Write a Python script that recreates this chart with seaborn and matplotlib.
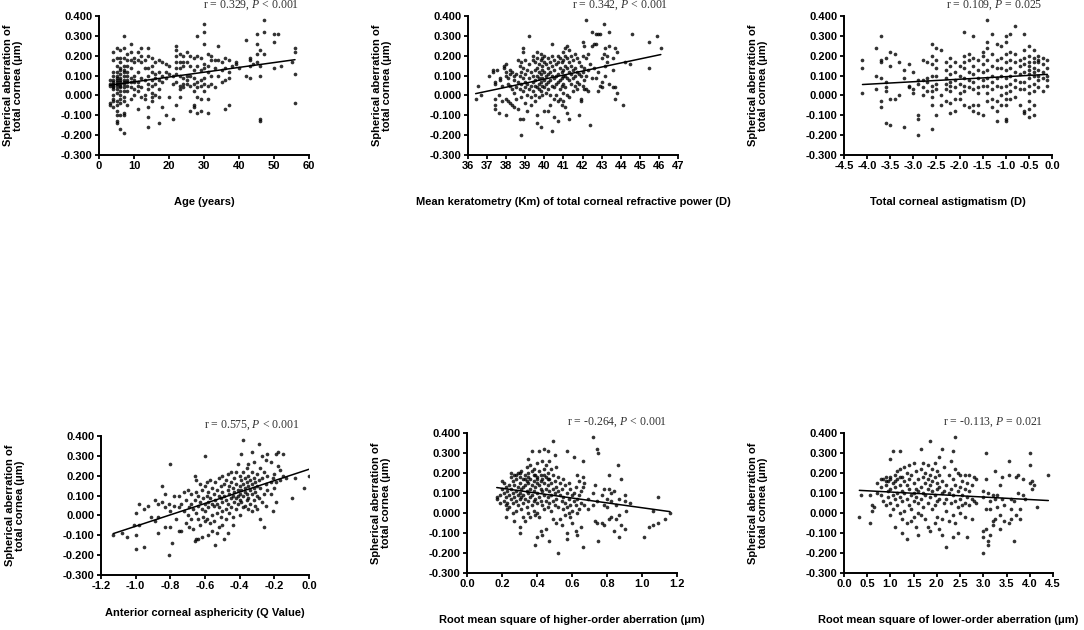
import matplotlib
matplotlib.use("Agg")
import matplotlib.pyplot as plt
from matplotlib.ticker import FormatStrFormatter
import seaborn as sns
import pandas as pd

# ---------------- data ----------------
# Each panel: list of x columns and, per column, the spherical aberration values.
AGE_X = [3, 4, 5, 6, 7, 8, 9, 10, 11, 12, 13, 14, 15, 16, 17, 18, 19, 20, 21, 22,
         23, 24, 25, 26, 27, 28, 29, 30, 31, 32, 33, 34, 35, 36, 37, 38, 39, 40,
         42, 43, 44, 45, 46, 47, 50, 51, 52, 55, 56]
AGE_SA = [
    [-0.04, -0.05, 0.06, 0.08, 0.05],
    [0.22, 0.18, 0.12, 0.10, 0.08, 0.07, 0.05, 0.03, 0.00, -0.02, -0.03, -0.06, 0.06, 0.04],
    [0.24, 0.19, 0.15, 0.12, 0.10, 0.08, 0.06, 0.05, 0.03, 0.01, -0.03, -0.05, -0.08, -0.10, -0.13, -0.14, 0.09, 0.07],
    [0.23, 0.19, 0.17, 0.14, 0.13, 0.11, 0.09, 0.07, 0.06, 0.04, 0.02, 0.00, -0.02, -0.04, -0.10, -0.17, 0.08, 0.05],
    [0.30, 0.24, 0.19, 0.15, 0.12, 0.10, 0.08, 0.06, 0.04, 0.02, -0.01, -0.03, -0.09, -0.10, -0.19, 0.13, 0.07],
    [0.21, 0.18, 0.15, 0.10, 0.07, 0.05, 0.02, -0.05, 0.12, 0.08],
    [0.26, 0.22, 0.18, 0.09, 0.07, 0.04, -0.02, 0.14],
    [0.19, 0.17, 0.10, 0.07, 0.03, 0.00, 0.08],
    [0.22, 0.18, 0.12, 0.07, 0.02, -0.07, 0.05],
    [0.24, 0.20, 0.17, 0.09, 0.04, -0.01],
    [0.18, 0.14, 0.08, 0.00, -0.02],
    [0.24, 0.20, 0.14, 0.10, 0.06, 0.03, -0.06, -0.11, -0.16],
    [0.19, 0.15, 0.12, 0.08, 0.05, 0.01, -0.01, -0.03],
    [0.17, 0.11, 0.09, 0.06, 0.00],
    [0.18, 0.12, 0.08, 0.03, -0.01, -0.14],
    [0.17, 0.10, 0.07, -0.06],
    [0.16, 0.12, 0.09, -0.10],
    [0.15, 0.11, -0.01],
    [0.10, 0.06, -0.12],
    [0.25, 0.23, 0.20, 0.17, 0.14, 0.11, 0.07, -0.05],
    [0.21, 0.17, 0.14, 0.10, 0.05, 0.03, -0.01],
    [0.20, 0.17, 0.15, 0.09, 0.06, 0.04],
    [0.22, 0.17, 0.10, 0.08, 0.06],
    [0.20, 0.15, 0.10, 0.05, -0.08],
    [0.19, 0.13, 0.09, 0.06, 0.02, -0.05, -0.06],
    [0.30, 0.20, 0.15, 0.07, 0.04, -0.01, -0.09],
    [0.19, 0.13, 0.08, 0.05, -0.02, -0.08],
    [0.36, 0.32, 0.26, 0.16, 0.14, 0.09, 0.06, 0.02],
    [0.21, 0.15, 0.12, 0.05, -0.02, -0.09],
    [0.20, 0.18, 0.10, 0.06],
    [0.18, 0.14, 0.04],
    [0.25, 0.18, 0.10],
    [0.17, 0.13, 0.07],
    [0.19, 0.14, 0.08, -0.07],
    [0.18, 0.12, 0.09, -0.05],
    [0.15],
    [0.17, 0.16],
    [0.14],
    [0.28, 0.10],
    [0.19, 0.18, 0.15, 0.09],
    [0.16],
    [0.31, 0.26, 0.21, 0.17],
    [0.23, 0.15, 0.10, -0.12, -0.13],
    [0.38, 0.32, 0.21],
    [0.31, 0.27, 0.14],
    [0.31],
    [0.15],
    [0.17],
    [0.24, 0.22, 0.11, -0.04],
]

KM_X = [36.4, 36.5, 36.7, 37.1, 37.3, 37.4, 37.5, 37.6, 37.7, 37.8, 37.9, 38.0, 38.1,
        38.2, 38.3, 38.4, 38.5, 38.6, 38.7, 38.8, 38.9, 39.0, 39.1, 39.2, 39.3, 39.4,
        39.5, 39.6, 39.7, 39.8, 39.9, 40.0, 40.1, 40.2, 40.3, 40.4, 40.5, 40.6, 40.7,
        40.8, 40.9, 41.0, 41.1, 41.2, 41.3, 41.4, 41.5, 41.6, 41.7, 41.8, 41.9, 42.0,
        42.1, 42.2, 42.3, 42.4, 42.5, 42.6, 42.7, 42.8, 42.9, 43.0, 43.1, 43.2, 43.3,
        43.4, 43.6, 43.7, 43.8, 44.1, 44.2, 44.5, 44.6, 45.5, 45.9, 46.1]
KM_SA = [
    [-0.02], [0.05], [0.00], [0.10], [0.13, 0.12],
    [0.07, 0.06, -0.02, -0.05, -0.07], [0.13], [-0.09, 0.00], [0.09, 0.08],
    [0.05, -0.03], [0.15, 0.14], [0.16, 0.12, 0.10, -0.02, -0.10], [0.09, 0.06, -0.03],
    [0.13, 0.11, 0.05, -0.04], [0.12, 0.03, -0.05], [0.10, 0.08, 0.01, -0.06],
    [0.11, 0.04, -0.02], [0.18, 0.07, -0.07], [0.15, 0.10, 0.03, -0.12],
    [0.17, 0.12, 0.06, -0.01, -0.20], [0.24, 0.22, 0.14, 0.09, 0.02, -0.12],
    [0.18, 0.11, 0.07, 0.04, -0.04], [0.13, 0.06, 0.00, -0.08], [0.30, 0.16, 0.09, 0.03],
    [0.12, 0.05, -0.01, -0.05], [0.20, 0.18, 0.10, 0.07, 0.02],
    [0.17, 0.13, 0.08, 0.05, 0.00, -0.03], [0.22, 0.19, 0.14, 0.10, 0.04, -0.10, -0.14],
    [0.16, 0.12, 0.09, 0.06, 0.03, -0.01], [0.21, 0.18, 0.11, 0.07, 0.02, -0.16],
    [0.19, 0.15, 0.13, 0.09, 0.05, 0.00], [0.20, 0.17, 0.12, 0.08, 0.04, -0.08],
    [0.16, 0.10, 0.06, 0.01], [0.19, 0.14, 0.11, 0.07, 0.03, -0.08],
    [0.17, 0.12, 0.08, 0.00, -0.05], [0.26, 0.20, 0.15, 0.10, 0.05, -0.18],
    [0.18, 0.13, 0.09, 0.04, -0.02, -0.11], [0.16, 0.10, 0.06, 0.00],
    [0.20, 0.17, 0.11, 0.07, -0.03, -0.13], [0.19, 0.14, 0.08, 0.03, -0.02],
    [0.17, 0.12, 0.09, 0.05, -0.05], [0.22, 0.18, 0.13, 0.10, 0.06, 0.01, -0.03],
    [0.24, 0.20, 0.15, 0.10, 0.04, -0.06], [0.25, 0.19, 0.14, 0.09, 0.00, -0.09],
    [0.23, 0.17, 0.12, 0.08, -0.01, -0.12], [0.20, 0.15, 0.11, 0.06],
    [0.18, 0.13, 0.09, 0.02], [0.21, 0.14, 0.10, 0.05], [0.19, 0.12, 0.07, 0.03],
    [0.17, 0.11, 0.06, -0.10], [0.15, 0.10, -0.02, -0.03], [0.27, 0.20, 0.12, 0.05],
    [0.25, 0.14, 0.08, 0.03], [0.38, 0.19, 0.10, 0.03], [0.21, 0.13, 0.02],
    [0.16, -0.15], [0.32, 0.25, 0.09], [0.26, 0.14], [0.31, 0.26, 0.09],
    [0.31, 0.12, 0.02], [0.31, 0.05], [0.19, 0.07, 0.04], [0.36, 0.21],
    [0.24, 0.15, 0.10], [0.20, 0.17], [0.32, 0.25, 0.06], [0.19, 0.13, 0.04],
    [0.24, 0.04, -0.02], [0.22, 0.01], [-0.05], [0.17], [0.16], [0.31],
    [0.27, 0.14], [0.30], [0.24],
]

AST_X = [-4.1, -3.8, -3.7, -3.6, -3.5, -3.4, -3.3, -3.2, -3.1, -3.0, -2.9, -2.8, -2.7,
         -2.6, -2.5, -2.4, -2.3, -2.2, -2.1, -2.0, -1.9, -1.8, -1.7, -1.6, -1.5, -1.4,
         -1.3, -1.2, -1.1, -1.0, -0.9, -0.8, -0.7, -0.6, -0.5, -0.4, -0.3, -0.2, -0.1]
AST_SA = [
    [0.18, 0.14, 0.01], [0.24, 0.10, 0.03], [0.30, 0.18, 0.17, 0.09, -0.03, -0.06],
    [0.19, 0.07, 0.04, 0.02, -0.14], [0.22, 0.15, -0.02, -0.15], [0.21, -0.02],
    [0.17, 0.00], [0.13, 0.09, -0.16], [0.16, 0.05, 0.04], [0.12, 0.03, 0.01],
    [0.08, 0.06, -0.10, -0.12, -0.20], [0.18, 0.08, 0.04, 0.00], [0.17, 0.09, 0.07, 0.02],
    [0.26, 0.20, 0.16, 0.10, 0.05, 0.02, -0.01, -0.05, -0.17],
    [0.24, 0.18, 0.14, 0.10, 0.06, 0.03, -0.10], [0.23, 0.00, -0.05],
    [0.17, 0.13, 0.09, 0.06, 0.03, -0.03], [0.19, 0.15, 0.11, 0.07, 0.05, 0.02, -0.04, -0.09],
    [0.17, 0.12, 0.08, 0.04, -0.02, -0.08], [0.15, 0.10, 0.06, 0.01, -0.02],
    [0.32, 0.20, 0.17, 0.14, 0.09, 0.05, 0.02, -0.05], [0.21, 0.18, 0.12, 0.08, 0.04, -0.06],
    [0.30, 0.19, 0.15, 0.11, 0.07, 0.03, -0.05, -0.08],
    [0.18, 0.13, 0.09, 0.04, 0.01, -0.05, -0.09], [0.22, 0.20, 0.16, 0.12, 0.08, 0.05, -0.10],
    [0.38, 0.27, 0.24, 0.18, 0.13, 0.09, 0.05, 0.01, -0.03],
    [0.31, 0.21, 0.15, 0.10, 0.07, 0.03, -0.02, -0.06],
    [0.26, 0.18, 0.14, 0.09, 0.05, -0.03, -0.08, -0.13],
    [0.25, 0.19, 0.14, 0.10, 0.04, 0.00, -0.05],
    [0.30, 0.27, 0.21, 0.17, 0.13, 0.09, 0.05, 0.01, -0.02, -0.05, -0.12, -0.13],
    [0.31, 0.22, 0.18, 0.14, 0.10, 0.06, 0.02, -0.02], [0.35, 0.21, 0.17, 0.12, 0.08, 0.04, -0.01],
    [0.18, 0.15, 0.11, 0.07, 0.03, -0.05], [0.31, 0.23, 0.19, 0.16, 0.12, 0.07, 0.03, -0.08, -0.09],
    [0.25, 0.20, 0.17, 0.15, 0.13, 0.11, 0.09, 0.05, 0.01, -0.03, -0.07, -0.11],
    [0.23, 0.19, 0.17, 0.14, 0.12, 0.10, 0.06, 0.02, -0.05, -0.10],
    [0.20, 0.18, 0.17, 0.13, 0.10, 0.08, 0.04],
    [0.19, 0.16, 0.12, 0.09, 0.02], [0.18, 0.14, 0.10, 0.08, 0.05],
]

Q_X = [-1.13, -1.08, -1.05, -1.01, -1.00, -0.98, -0.95, -0.93, -0.91, -0.89, -0.87, -0.85,
       -0.83, -0.81, -0.80, -0.79, -0.78, -0.77, -0.75, -0.74, -0.72, -0.71, -0.70, -0.69,
       -0.68, -0.67, -0.66, -0.65, -0.64, -0.63, -0.62, -0.61, -0.60, -0.59, -0.58, -0.57,
       -0.56, -0.55, -0.54, -0.53, -0.52, -0.51, -0.50, -0.49, -0.48, -0.47, -0.46, -0.45,
       -0.44, -0.43, -0.42, -0.41, -0.40, -0.39, -0.38, -0.37, -0.36, -0.35, -0.34, -0.33,
       -0.32, -0.31, -0.30, -0.29, -0.28, -0.27, -0.26, -0.25, -0.24, -0.22, -0.21, -0.20,
       -0.19, -0.18, -0.17, -0.15, -0.13, -0.10, -0.08, -0.03, 0.00]
Q_SA = [
    [-0.10], [-0.09], [-0.11], [-0.05], [-0.17, -0.10, 0.01], [0.06, -0.05], [0.03, -0.16],
    [0.05], [-0.01], [0.08, -0.03], [0.06, -0.01, -0.09], [0.15, 0.07], [0.04, 0.11, -0.06],
    [0.06, -0.20], [0.26, 0.02, -0.06], [-0.14], [0.10, 0.05], [-0.02], [0.10, 0.04, -0.08],
    [0.06, -0.08], [0.12, 0.02], [0.08, -0.04], [0.13, 0.00], [0.04, -0.06],
    [0.11, 0.06, -0.02], [0.03, -0.07], [0.20, 0.08, -0.13], [0.18, 0.12, 0.01, -0.12],
    [0.10, 0.05, -0.02, -0.12], [0.16, 0.07, -0.05], [0.13, 0.03, -0.11], [0.09, -0.01],
    [0.30, 0.15, 0.06, 0.02, -0.03], [0.17, 0.10, -0.02], [0.12, 0.07, 0.04, -0.10],
    [0.18, 0.09, -0.04], [0.14, 0.06, 0.00, -0.08], [0.11, 0.05, -0.03], [0.17, 0.08, -0.15],
    [0.13, 0.06, 0.01, -0.09], [0.19, 0.10, 0.04, -0.06], [0.15, 0.09, -0.01],
    [0.20, 0.12, 0.07, 0.02, -0.05], [0.16, 0.10, -0.12], [0.18, 0.08, 0.03, -0.02],
    [0.21, 0.13, 0.06, -0.09], [0.15, 0.11, 0.01], [0.22, 0.17, 0.09, 0.04],
    [0.14, 0.10, -0.01, -0.05], [0.19, 0.12, 0.07], [0.22, 0.16, 0.09, 0.03],
    [0.26, 0.13, 0.10, 0.06], [0.20, 0.15, 0.11, 0.08, 0.00], [0.31, 0.18, 0.13, 0.07],
    [0.38, 0.22, 0.16, 0.10, 0.04], [0.19, 0.14, 0.12, 0.05], [0.24, 0.17, 0.11, 0.08],
    [0.26, 0.20, 0.15, 0.09, 0.03], [0.18, 0.13, 0.06], [0.32, 0.22, 0.16, 0.11, 0.02],
    [0.27, 0.19, 0.14, 0.08], [0.17, 0.12, 0.05], [0.21, 0.15, 0.10, 0.03], [0.36, 0.18, 0.09],
    [0.24, 0.14, -0.02], [0.30, 0.19, 0.07], [0.22, 0.11, -0.06], [0.28, 0.16, 0.05],
    [0.31, 0.20, 0.13], [0.27, 0.17, 0.11], [0.19, 0.02], [0.21, 0.14], [0.31, 0.17, 0.07],
    [0.32, 0.25], [0.23, 0.18], [0.31, 0.20], [0.19], [0.09], [0.19], [0.14], [0.20],
]

HOA_X = [0.17, 0.19, 0.20, 0.21, 0.22, 0.23, 0.24, 0.25, 0.26, 0.27, 0.28, 0.29, 0.30,
         0.31, 0.32, 0.33, 0.34, 0.35, 0.36, 0.37, 0.38, 0.39, 0.40, 0.41, 0.42, 0.43,
         0.44, 0.45, 0.46, 0.47, 0.48, 0.49, 0.50, 0.51, 0.52, 0.53, 0.54, 0.55, 0.56,
         0.57, 0.58, 0.59, 0.60, 0.61, 0.62, 0.63, 0.64, 0.65, 0.66, 0.67, 0.69, 0.72,
         0.73, 0.74, 0.75, 0.77, 0.78, 0.80, 0.81, 0.82, 0.84, 0.85, 0.86, 0.87, 0.88,
         0.90, 0.91, 0.93, 1.01, 1.04, 1.06, 1.09, 1.13, 1.16]
HOA_SA = [
    [0.08, 0.07], [0.09, 0.05], [0.16, 0.12], [0.15, 0.10, 0.06], [0.13, 0.08, 0.04, -0.02],
    [0.11, 0.05, 0.02], [0.14, 0.09, 0.03], [0.20, 0.18, 0.12, 0.07], [0.16, 0.10, 0.05, 0.00],
    [0.19, 0.14, 0.08, -0.04], [0.19, 0.17, 0.11, 0.06, 0.01], [0.20, 0.13, 0.09, 0.04],
    [0.20, 0.18, 0.15, 0.10, 0.07, -0.07, -0.10], [0.21, 0.12, 0.08, 0.02],
    [0.17, 0.13, 0.09, 0.05, -0.02], [0.19, 0.17, 0.14, 0.07, -0.04], [0.23, 0.16, 0.11, 0.03],
    [0.27, 0.20, 0.18, 0.15, 0.10, 0.06, 0.00], [0.24, 0.17, 0.12, 0.08, -0.02],
    [0.31, 0.21, 0.14, 0.09, 0.04], [0.22, 0.19, 0.16, 0.11, 0.06, 0.01],
    [0.19, 0.13, 0.07, -0.01, -0.16], [0.25, 0.18, 0.17, 0.15, 0.10, 0.05, 0.00, -0.12],
    [0.31, 0.21, 0.14, 0.08, -0.02], [0.19, 0.16, 0.12, 0.06, -0.09], [0.26, 0.17, 0.11, 0.04, -0.11],
    [0.32, 0.22, 0.19, 0.15, 0.09, 0.02], [0.24, 0.18, 0.12, 0.06, -0.08],
    [0.31, 0.20, 0.17, 0.14, 0.08, 0.03], [0.26, 0.17, 0.11, 0.05, -0.14], [0.22, 0.15, 0.09, 0.01],
    [0.36, 0.19, 0.12, 0.06, -0.03], [0.29, 0.16, 0.10, 0.04], [0.23, 0.13, 0.07, -0.05],
    [0.18, 0.11, 0.03, -0.20], [0.15, 0.09, -0.03], [0.12, 0.06, -0.06], [0.17, 0.08, 0.02],
    [0.14, 0.05, -0.01], [0.31, 0.10, 0.03, -0.10, -0.13], [0.15, 0.07, 0.00],
    [0.12, 0.04, -0.02], [0.09, 0.01, -0.05], [0.28, 0.10, 0.06], [0.13, 0.04, -0.09],
    [0.19, 0.07, 0.00, -0.11], [0.16, 0.09, 0.02], [0.11, 0.05, -0.07],
    [0.26, 0.18, 0.13, -0.17], [0.15, 0.04], [0.07, 0.02], [0.38, 0.10, 0.04], [0.14, -0.04],
    [0.32, 0.06, -0.05], [0.30, -0.14], [0.09, -0.05], [0.12, 0.04, -0.06], [0.07, 0.03],
    [0.19, 0.12, -0.03], [0.10, 0.06, -0.02], [0.11, -0.09], [0.04, -0.03], [0.24],
    [0.07, -0.01, -0.12], [0.17, -0.06], [0.09, 0.06, -0.08], [0.01], [0.05], [-0.12],
    [-0.07], [-0.06, 0.01], [0.08, -0.05], [-0.03], [0.00],
]

LOA_X = [0.33, 0.37, 0.55, 0.60, 0.65, 0.70, 0.80, 0.85, 0.90, 0.95, 1.00, 1.05, 1.10,
         1.15, 1.20, 1.25, 1.30, 1.35, 1.40, 1.45, 1.50, 1.55, 1.60, 1.65, 1.70, 1.75,
         1.80, 1.85, 1.90, 1.95, 2.00, 2.05, 2.10, 2.15, 2.20, 2.25, 2.30, 2.35, 2.40,
         2.45, 2.50, 2.55, 2.60, 2.65, 2.70, 2.75, 2.80, 2.85, 3.00, 3.05, 3.10, 3.15,
         3.20, 3.25, 3.30, 3.35, 3.40, 3.45, 3.55, 3.60, 3.65, 3.70, 3.75, 3.80, 3.85,
         3.90, 4.00, 4.05, 4.10, 4.15, 4.40]
LOA_SA = [
    [-0.02], [0.09], [-0.05, 0.09], [0.04, 0.01], [0.03], [0.15, 0.10], [0.17, 0.13, 0.09],
    [0.17, 0.06], [0.18, 0.16, 0.14, 0.04], [0.16, 0.11, 0.08], [0.27, 0.18, 0.17, 0.12, 0.05, -0.01],
    [0.31, 0.15, 0.09, 0.02], [0.19, 0.16, 0.13, 0.07, -0.07], [0.21, 0.17, 0.10, 0.04],
    [0.31, 0.22, 0.18, 0.14, 0.08, 0.00], [0.18, 0.11, 0.06, -0.03, -0.10], [0.23, 0.16, 0.10, 0.01],
    [0.20, 0.14, 0.07, -0.05, -0.13], [0.24, 0.17, 0.12, 0.04], [0.19, 0.09, 0.02, -0.04],
    [0.25, 0.15, 0.10, 0.06, -0.02], [0.21, 0.12, 0.08, -0.07], [0.17, 0.11, 0.05, 0.00, -0.11],
    [0.32, 0.22, 0.13, 0.07, -0.01], [0.25, 0.18, 0.10, 0.03], [0.20, 0.15, 0.09, -0.03],
    [0.24, 0.17, 0.12, 0.05, -0.07], [0.36, 0.19, 0.14, 0.08, -0.09], [0.22, 0.16, 0.11, 0.02],
    [0.25, 0.18, 0.09, 0.04, -0.05], [0.21, 0.15, 0.12, 0.06, -0.02],
    [0.28, 0.19, 0.13, 0.07, -0.08], [0.32, 0.16, 0.10, -0.03, -0.11], [0.23, 0.11, 0.05],
    [0.14, 0.07, 0.01, -0.17], [0.19, 0.10, -0.04], [0.26, 0.12, 0.05],
    [0.31, 0.17, 0.09, -0.01, -0.12], [0.38, 0.22, 0.14, 0.06, -0.05],
    [0.20, 0.11, 0.03, -0.10], [0.19, 0.13, 0.07, 0.00], [0.16, 0.09, 0.04],
    [0.19, 0.12, 0.05, -0.02], [0.15, 0.08, -0.12], [0.19, 0.11, 0.04], [0.14, 0.07, -0.03],
    [0.18, 0.06], [0.17, 0.05], [0.11, 0.08, -0.09, -0.12, -0.20], [0.30, 0.17, 0.02, -0.08],
    [0.10, -0.14, -0.16], [0.06, -0.11, 0.02], [0.09, -0.04, -0.06], [0.21, 0.07, -0.03],
    [0.09, 0.03], [0.14, -0.01, -0.08], [0.18, 0.07], [0.04, -0.04], [0.26, 0.19, -0.05],
    [0.07, 0.02, -0.03], [-0.14, 0.06], [0.18, -0.01], [0.19, 0.10], [0.02, -0.03],
    [0.17, 0.09], [0.07], [0.24, 0.15, 0.30], [0.16, 0.12], [0.14], [0.03], [0.19],
]

X_LABELS = ["Age (years)",
            "Mean keratometry (Km) of total corneal refractive power (D)",
            "Total corneal astigmatism (D)",
            "Anterior corneal asphericity (Q Value)",
            "Root mean square of higher-order aberration (\u03bcm)",
            "Root mean square of lower-order aberration (\u03bcm)"]
Y_LABEL = "Spherical aberration of\ntotal cornea (\u03bcm)"
R_TEXT = ["0.329", "0.342", "0.109", "0.575", "-0.264", "-0.113"]
P_TEXT = ["< 0.001", "< 0.001", "= 0.025", "< 0.001", "< 0.001", "= 0.021"]
X_TICKS = [[0, 10, 20, 30, 40, 50, 60],
           [36, 37, 38, 39, 40, 41, 42, 43, 44, 45, 46, 47],
           [-4.5, -4.0, -3.5, -3.0, -2.5, -2.0, -1.5, -1.0, -0.5, 0.0],
           [-1.2, -1.0, -0.8, -0.6, -0.4, -0.2, 0.0],
           [0.0, 0.2, 0.4, 0.6, 0.8, 1.0, 1.2],
           [0.0, 0.5, 1.0, 1.5, 2.0, 2.5, 3.0, 3.5, 4.0, 4.5]]
X_FMT = ["%d", "%d", "%.1f", "%.1f", "%.1f", "%.1f"]
Y_TICKS = [-0.3, -0.2, -0.1, 0.0, 0.1, 0.2, 0.3, 0.4]

PANELS = [(AGE_X, AGE_SA), (KM_X, KM_SA), (AST_X, AST_SA),
          (Q_X, Q_SA), (HOA_X, HOA_SA), (LOA_X, LOA_SA)]


def expand(xs, groups):
    xx = [x for x, g in zip(xs, groups) for _ in g]
    yy = [v for g in groups for v in g]
    return pd.DataFrame({"x": xx, "y": yy})


# ---------------- style ----------------
sns.set_theme(style="ticks")
plt.rcParams["font.family"] = ["Liberation Sans", "DejaVu Sans"]
plt.rcParams["axes.unicode_minus"] = False
plt.rcParams["mathtext.fontset"] = "custom"
plt.rcParams["mathtext.rm"] = "Liberation Serif"
plt.rcParams["mathtext.it"] = "Liberation Serif:italic"

W, H = 1084, 630
fig = plt.figure(figsize=(W / 100, H / 100), dpi=100)

# axes rectangles in pixels: left, right, top, bottom
RECTS = [(99, 309, 16, 155), (468, 678, 16, 155), (844, 1052, 16, 155),
         (101, 309, 436, 575), (467, 677, 433, 573), (844, 1053, 433, 573)]
XLAB_OFF = [47, 47, 47, 38, 47, 47]
YLAB_OFF = 86

for i, ((xs, groups), (l, r, t, b)) in enumerate(zip(PANELS, RECTS)):
    ax = fig.add_axes([l / W, 1 - b / H, (r - l) / W, (b - t) / H])
    df = expand(xs, groups)
    sns.regplot(data=df, x="x", y="y", ax=ax, ci=None, truncate=True,
                scatter_kws=dict(s=7, color="black", linewidths=0),
                line_kws=dict(color="black", linewidth=1.1))
    ax.set_xlim(X_TICKS[i][0], X_TICKS[i][-1])
    ax.set_ylim(-0.3, 0.4)
    ax.set_xticks(X_TICKS[i])
    ax.set_yticks(Y_TICKS)
    ax.xaxis.set_major_formatter(FormatStrFormatter(X_FMT[i]))
    ax.yaxis.set_major_formatter(FormatStrFormatter("%.3f"))
    for s in ["top", "right"]:
        ax.spines[s].set_visible(False)
    for s in ["left", "bottom"]:
        ax.spines[s].set_linewidth(1.4)
        ax.spines[s].set_color("black")
    ax.tick_params(axis="both", direction="out", length=3, width=1.3,
                   colors="black", labelsize=8, pad=1.5)
    for lab in ax.get_xticklabels() + ax.get_yticklabels():
        lab.set_fontweight("bold")
    ax.set_xlabel(X_LABELS[i], fontsize=8, fontweight="bold", color="black", va="center")
    ax.set_ylabel(Y_LABEL, fontsize=8, fontweight="bold", color="black", va="center",
                  linespacing=1.1)
    hpx, wpx = b - t, r - l
    ax.xaxis.set_label_coords(0.5, -XLAB_OFF[i] / hpx)
    ax.yaxis.set_label_coords(-YLAB_OFF / wpx, 0.5)
    ax.text(1 - 10 / wpx, 1 + 11 / hpx,
            "r = " + R_TEXT[i] + ", $\\mathit{P}$ " + P_TEXT[i],
            transform=ax.transAxes, ha="right", va="center", fontsize=8.5,
            family="Liberation Serif", color="#333333")

fig.savefig("out.png", dpi=100, facecolor="white")
